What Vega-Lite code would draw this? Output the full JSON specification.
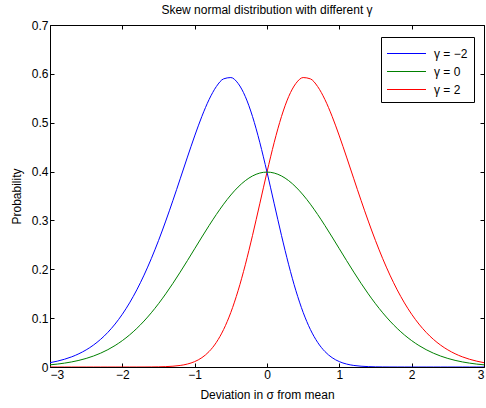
{
  "$schema": "https://vega.github.io/schema/vega-lite/v6.json",
  "width": 434,
  "height": 342,
  "autosize": {"type": "none"},
  "padding": {"left": 50, "top": 25, "right": 2, "bottom": 41},
  "background": "white",
  "config": {
    "font": "Liberation Sans",
    "view": {"stroke": "black", "strokeWidth": 1},
    "axis": {
      "domain": false,
      "grid": false,
      "tickColor": "black",
      "tickSize": -4,
      "labelColor": "black",
      "labelFontSize": 12,
      "labelFont": "Liberation Sans",
      "titleFont": "Liberation Sans",
      "titleFontSize": 12,
      "titleFontWeight": "normal",
      "titleColor": "black"
    },
    "title": {"font": "Liberation Sans", "fontSize": 12, "fontWeight": "normal", "color": "black", "offset": 2}
  },
  "title": {"text": "Skew normal distribution with different γ", "anchor": "middle"},
  "data": {"values": [
    {"x": -3.0, "y": 0, "g": "γ = 2"},
    {"x": -2.9, "y": 0, "g": "γ = 2"},
    {"x": -2.8, "y": 0, "g": "γ = 2"},
    {"x": -2.7, "y": 0, "g": "γ = 2"},
    {"x": -2.6, "y": 0, "g": "γ = 2"},
    {"x": -2.5, "y": 0, "g": "γ = 2"},
    {"x": -2.4, "y": 0, "g": "γ = 2"},
    {"x": -2.3, "y": 0, "g": "γ = 2"},
    {"x": -2.2, "y": 0, "g": "γ = 2"},
    {"x": -2.1, "y": 0, "g": "γ = 2"},
    {"x": -2.0, "y": 0, "g": "γ = 2"},
    {"x": -1.9, "y": 0.00001, "g": "γ = 2"},
    {"x": -1.8, "y": 0.00003, "g": "γ = 2"},
    {"x": -1.7, "y": 0.00006, "g": "γ = 2"},
    {"x": -1.6, "y": 0.00015, "g": "γ = 2"},
    {"x": -1.5, "y": 0.00035, "g": "γ = 2"},
    {"x": -1.4, "y": 0.00077, "g": "γ = 2"},
    {"x": -1.3, "y": 0.0016, "g": "γ = 2"},
    {"x": -1.2, "y": 0.00318, "g": "γ = 2"},
    {"x": -1.1, "y": 0.00606, "g": "γ = 2"},
    {"x": -1.0, "y": 0.01101, "g": "γ = 2"},
    {"x": -0.9, "y": 0.01912, "g": "γ = 2"},
    {"x": -0.8, "y": 0.03175, "g": "γ = 2"},
    {"x": -0.7, "y": 0.05043, "g": "γ = 2"},
    {"x": -0.6, "y": 0.07669, "g": "γ = 2"},
    {"x": -0.5, "y": 0.11172, "g": "γ = 2"},
    {"x": -0.4, "y": 0.15604, "g": "γ = 2"},
    {"x": -0.3, "y": 0.20919, "g": "γ = 2"},
    {"x": -0.2, "y": 0.26949, "g": "γ = 2"},
    {"x": -0.1, "y": 0.33402, "g": "γ = 2"},
    {"x": 0.0, "y": 0.39894, "g": "γ = 2"},
    {"x": 0.1, "y": 0.45988, "g": "γ = 2"},
    {"x": 0.2, "y": 0.51259, "g": "γ = 2"},
    {"x": 0.3, "y": 0.55359, "g": "γ = 2"},
    {"x": 0.4, "y": 0.5805, "g": "γ = 2"},
    {"x": 0.5, "y": 0.59242, "g": "γ = 2"},
    {"x": 0.6, "y": 0.58975, "g": "γ = 2"},
    {"x": 0.7, "y": 0.57407, "g": "γ = 2"},
    {"x": 0.8, "y": 0.54763, "g": "γ = 2"},
    {"x": 0.9, "y": 0.51306, "g": "γ = 2"},
    {"x": 1.0, "y": 0.47293, "g": "γ = 2"},
    {"x": 1.1, "y": 0.42964, "g": "γ = 2"},
    {"x": 1.2, "y": 0.3852, "g": "γ = 2"},
    {"x": 1.3, "y": 0.34114, "g": "γ = 2"},
    {"x": 1.4, "y": 0.29869, "g": "γ = 2"},
    {"x": 1.5, "y": 0.25869, "g": "γ = 2"},
    {"x": 1.6, "y": 0.22169, "g": "γ = 2"},
    {"x": 1.7, "y": 0.18804, "g": "γ = 2"},
    {"x": 1.8, "y": 0.15787, "g": "γ = 2"},
    {"x": 1.9, "y": 0.13123, "g": "γ = 2"},
    {"x": 2.0, "y": 0.10798, "g": "γ = 2"},
    {"x": 2.1, "y": 0.08796, "g": "γ = 2"},
    {"x": 2.2, "y": 0.07094, "g": "γ = 2"},
    {"x": 2.3, "y": 0.05666, "g": "γ = 2"},
    {"x": 2.4, "y": 0.04478, "g": "γ = 2"},
    {"x": 2.5, "y": 0.03506, "g": "γ = 2"},
    {"x": 2.6, "y": 0.02716, "g": "γ = 2"},
    {"x": 2.7, "y": 0.02084, "g": "γ = 2"},
    {"x": 2.8, "y": 0.01584, "g": "γ = 2"},
    {"x": 2.9, "y": 0.0119, "g": "γ = 2"},
    {"x": 3.0, "y": 0.00886, "g": "γ = 2"},

    {"x": 3.0, "y": 0, "g": "γ = −2"},
    {"x": 2.9, "y": 0, "g": "γ = −2"},
    {"x": 2.8, "y": 0, "g": "γ = −2"},
    {"x": 2.7, "y": 0, "g": "γ = −2"},
    {"x": 2.6, "y": 0, "g": "γ = −2"},
    {"x": 2.5, "y": 0, "g": "γ = −2"},
    {"x": 2.4, "y": 0, "g": "γ = −2"},
    {"x": 2.3, "y": 0, "g": "γ = −2"},
    {"x": 2.2, "y": 0, "g": "γ = −2"},
    {"x": 2.1, "y": 0, "g": "γ = −2"},
    {"x": 2.0, "y": 0, "g": "γ = −2"},
    {"x": 1.9, "y": 0.00001, "g": "γ = −2"},
    {"x": 1.8, "y": 0.00003, "g": "γ = −2"},
    {"x": 1.7, "y": 0.00006, "g": "γ = −2"},
    {"x": 1.6, "y": 0.00015, "g": "γ = −2"},
    {"x": 1.5, "y": 0.00035, "g": "γ = −2"},
    {"x": 1.4, "y": 0.00077, "g": "γ = −2"},
    {"x": 1.3, "y": 0.0016, "g": "γ = −2"},
    {"x": 1.2, "y": 0.00318, "g": "γ = −2"},
    {"x": 1.1, "y": 0.00606, "g": "γ = −2"},
    {"x": 1.0, "y": 0.01101, "g": "γ = −2"},
    {"x": 0.9, "y": 0.01912, "g": "γ = −2"},
    {"x": 0.8, "y": 0.03175, "g": "γ = −2"},
    {"x": 0.7, "y": 0.05043, "g": "γ = −2"},
    {"x": 0.6, "y": 0.07669, "g": "γ = −2"},
    {"x": 0.5, "y": 0.11172, "g": "γ = −2"},
    {"x": 0.4, "y": 0.15604, "g": "γ = −2"},
    {"x": 0.3, "y": 0.20919, "g": "γ = −2"},
    {"x": 0.2, "y": 0.26949, "g": "γ = −2"},
    {"x": 0.1, "y": 0.33402, "g": "γ = −2"},
    {"x": 0.0, "y": 0.39894, "g": "γ = −2"},
    {"x": -0.1, "y": 0.45988, "g": "γ = −2"},
    {"x": -0.2, "y": 0.51259, "g": "γ = −2"},
    {"x": -0.3, "y": 0.55359, "g": "γ = −2"},
    {"x": -0.4, "y": 0.5805, "g": "γ = −2"},
    {"x": -0.5, "y": 0.59242, "g": "γ = −2"},
    {"x": -0.6, "y": 0.58975, "g": "γ = −2"},
    {"x": -0.7, "y": 0.57407, "g": "γ = −2"},
    {"x": -0.8, "y": 0.54763, "g": "γ = −2"},
    {"x": -0.9, "y": 0.51306, "g": "γ = −2"},
    {"x": -1.0, "y": 0.47293, "g": "γ = −2"},
    {"x": -1.1, "y": 0.42964, "g": "γ = −2"},
    {"x": -1.2, "y": 0.3852, "g": "γ = −2"},
    {"x": -1.3, "y": 0.34114, "g": "γ = −2"},
    {"x": -1.4, "y": 0.29869, "g": "γ = −2"},
    {"x": -1.5, "y": 0.25869, "g": "γ = −2"},
    {"x": -1.6, "y": 0.22169, "g": "γ = −2"},
    {"x": -1.7, "y": 0.18804, "g": "γ = −2"},
    {"x": -1.8, "y": 0.15787, "g": "γ = −2"},
    {"x": -1.9, "y": 0.13123, "g": "γ = −2"},
    {"x": -2.0, "y": 0.10798, "g": "γ = −2"},
    {"x": -2.1, "y": 0.08796, "g": "γ = −2"},
    {"x": -2.2, "y": 0.07094, "g": "γ = −2"},
    {"x": -2.3, "y": 0.05666, "g": "γ = −2"},
    {"x": -2.4, "y": 0.04478, "g": "γ = −2"},
    {"x": -2.5, "y": 0.03506, "g": "γ = −2"},
    {"x": -2.6, "y": 0.02716, "g": "γ = −2"},
    {"x": -2.7, "y": 0.02084, "g": "γ = −2"},
    {"x": -2.8, "y": 0.01584, "g": "γ = −2"},
    {"x": -2.9, "y": 0.0119, "g": "γ = −2"},
    {"x": -3.0, "y": 0.00886, "g": "γ = −2"},

    {"x": -3.0, "y": 0.00443, "g": "γ = 0"},
    {"x": -2.9, "y": 0.00595, "g": "γ = 0"},
    {"x": -2.8, "y": 0.00792, "g": "γ = 0"},
    {"x": -2.7, "y": 0.01042, "g": "γ = 0"},
    {"x": -2.6, "y": 0.01358, "g": "γ = 0"},
    {"x": -2.5, "y": 0.01753, "g": "γ = 0"},
    {"x": -2.4, "y": 0.02239, "g": "γ = 0"},
    {"x": -2.3, "y": 0.02833, "g": "γ = 0"},
    {"x": -2.2, "y": 0.03547, "g": "γ = 0"},
    {"x": -2.1, "y": 0.04398, "g": "γ = 0"},
    {"x": -2.0, "y": 0.05399, "g": "γ = 0"},
    {"x": -1.9, "y": 0.06562, "g": "γ = 0"},
    {"x": -1.8, "y": 0.07895, "g": "γ = 0"},
    {"x": -1.7, "y": 0.09405, "g": "γ = 0"},
    {"x": -1.6, "y": 0.11092, "g": "γ = 0"},
    {"x": -1.5, "y": 0.12952, "g": "γ = 0"},
    {"x": -1.4, "y": 0.14973, "g": "γ = 0"},
    {"x": -1.3, "y": 0.17137, "g": "γ = 0"},
    {"x": -1.2, "y": 0.19419, "g": "γ = 0"},
    {"x": -1.1, "y": 0.21785, "g": "γ = 0"},
    {"x": -1.0, "y": 0.24197, "g": "γ = 0"},
    {"x": -0.9, "y": 0.26609, "g": "γ = 0"},
    {"x": -0.8, "y": 0.28969, "g": "γ = 0"},
    {"x": -0.7, "y": 0.31225, "g": "γ = 0"},
    {"x": -0.6, "y": 0.33322, "g": "γ = 0"},
    {"x": -0.5, "y": 0.35207, "g": "γ = 0"},
    {"x": -0.4, "y": 0.36827, "g": "γ = 0"},
    {"x": -0.3, "y": 0.38139, "g": "γ = 0"},
    {"x": -0.2, "y": 0.39104, "g": "γ = 0"},
    {"x": -0.1, "y": 0.39695, "g": "γ = 0"},
    {"x": 0.0, "y": 0.39894, "g": "γ = 0"},
    {"x": 0.1, "y": 0.39695, "g": "γ = 0"},
    {"x": 0.2, "y": 0.39104, "g": "γ = 0"},
    {"x": 0.3, "y": 0.38139, "g": "γ = 0"},
    {"x": 0.4, "y": 0.36827, "g": "γ = 0"},
    {"x": 0.5, "y": 0.35207, "g": "γ = 0"},
    {"x": 0.6, "y": 0.33322, "g": "γ = 0"},
    {"x": 0.7, "y": 0.31225, "g": "γ = 0"},
    {"x": 0.8, "y": 0.28969, "g": "γ = 0"},
    {"x": 0.9, "y": 0.26609, "g": "γ = 0"},
    {"x": 1.0, "y": 0.24197, "g": "γ = 0"},
    {"x": 1.1, "y": 0.21785, "g": "γ = 0"},
    {"x": 1.2, "y": 0.19419, "g": "γ = 0"},
    {"x": 1.3, "y": 0.17137, "g": "γ = 0"},
    {"x": 1.4, "y": 0.14973, "g": "γ = 0"},
    {"x": 1.5, "y": 0.12952, "g": "γ = 0"},
    {"x": 1.6, "y": 0.11092, "g": "γ = 0"},
    {"x": 1.7, "y": 0.09405, "g": "γ = 0"},
    {"x": 1.8, "y": 0.07895, "g": "γ = 0"},
    {"x": 1.9, "y": 0.06562, "g": "γ = 0"},
    {"x": 2.0, "y": 0.05399, "g": "γ = 0"},
    {"x": 2.1, "y": 0.04398, "g": "γ = 0"},
    {"x": 2.2, "y": 0.03547, "g": "γ = 0"},
    {"x": 2.3, "y": 0.02833, "g": "γ = 0"},
    {"x": 2.4, "y": 0.02239, "g": "γ = 0"},
    {"x": 2.5, "y": 0.01753, "g": "γ = 0"},
    {"x": 2.6, "y": 0.01358, "g": "γ = 0"},
    {"x": 2.7, "y": 0.01042, "g": "γ = 0"},
    {"x": 2.8, "y": 0.00792, "g": "γ = 0"},
    {"x": 2.9, "y": 0.00595, "g": "γ = 0"},
    {"x": 3.0, "y": 0.00443, "g": "γ = 0"}
  ]},
  "layer": [
    {
      "mark": {"type": "line", "strokeWidth": 1, "interpolate": "monotone", "clip": true},
      "encoding": {
        "x": {"field": "x", "type": "quantitative", "scale": {"domain": [-3, 3], "nice": false, "zero": false},
              "axis": {"values": [-3, -2, -1, 0, 1, 2, 3], "format": "d", "title": "Deviation in σ from mean", "labelPadding": 6, "titlePadding": 9}},
        "y": {"field": "y", "type": "quantitative", "scale": {"domain": [0, 0.7], "nice": false},
              "axis": {"values": [0, 0.1, 0.2, 0.3, 0.4, 0.5, 0.6, 0.7], "format": ".1~f", "title": "Probability", "labelPadding": 6, "titlePadding": 8}},
        "color": {"field": "g", "type": "nominal",
                  "scale": {"domain": ["γ = −2", "γ = 0", "γ = 2"], "range": ["#0000ff", "#008000", "#ff0000"]},
                  "legend": {"title": null, "orient": "none", "legendX": 331, "legendY": 12,
                             "strokeColor": "black", "fillColor": "white", "padding": 6, "cornerRadius": 0,
                             "symbolType": "M-2,0H2", "symbolSize": 380, "symbolStrokeWidth": 1.2, "symbolOffset": 9,
                             "labelFontSize": 12, "labelFont": "Liberation Sans", "labelColor": "black", "labelOffset": 17, "rowPadding": 1}}
      }
    },
    {
      "mark": {"type": "line", "opacity": 0},
      "encoding": {
        "x": {"field": "x", "type": "quantitative",
              "axis": {"orient": "top", "values": [-3, -2, -1, 0, 1, 2, 3], "labels": false, "title": null}},
        "y": {"field": "y", "type": "quantitative",
              "axis": {"orient": "right", "values": [0, 0.1, 0.2, 0.3, 0.4, 0.5, 0.6, 0.7], "labels": false, "title": null}},
        "detail": {"field": "g"}
      }
    }
  ],
  "resolve": {"axis": {"x": "independent", "y": "independent"}}
}
